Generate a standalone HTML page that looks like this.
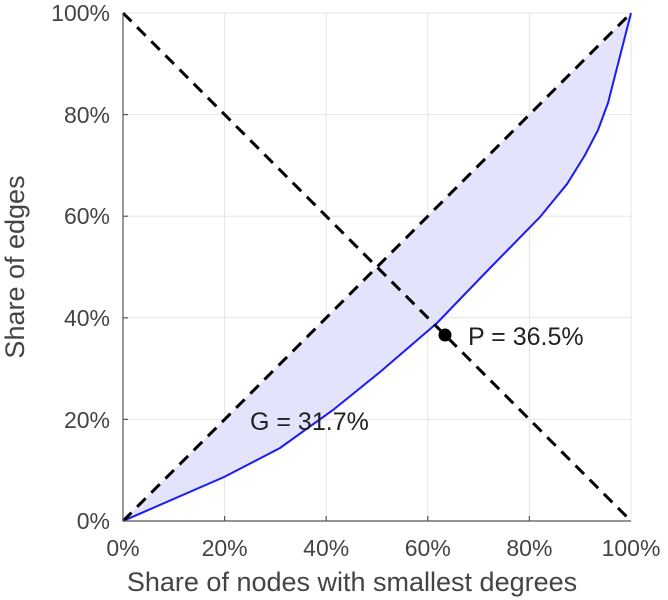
<!DOCTYPE html>
<html><head><meta charset="utf-8"><style>
html,body{margin:0;padding:0;background:#fff;}
svg{display:block;font-family:"Liberation Sans",sans-serif;}
</style></head><body>
<svg width="668" height="600" viewBox="0 0 668 600" xmlns="http://www.w3.org/2000/svg">
<g stroke="#e6e6e6" stroke-width="1">
<line x1="224.6" y1="13" x2="224.6" y2="521"/><line x1="326.2" y1="13" x2="326.2" y2="521"/>
<line x1="427.8" y1="13" x2="427.8" y2="521"/><line x1="529.4" y1="13" x2="529.4" y2="521"/>
<line x1="631" y1="13" x2="631" y2="521"/>
<line x1="123" y1="13" x2="631" y2="13"/><line x1="123" y1="114.6" x2="631" y2="114.6"/>
<line x1="123" y1="216.2" x2="631" y2="216.2"/><line x1="123" y1="317.8" x2="631" y2="317.8"/>
<line x1="123" y1="419.4" x2="631" y2="419.4"/>
</g>
<polygon points="123,521 224,477 280,448 333,410 380,372 437,323 490,268 540,217 567,184 585,155 598,130 608,103 631,13" fill="#e3e3fb" stroke="none"/>
<polyline points="123,521 224,477 280,448 333,410 380,372 437,323 490,268 540,217 567,184 585,155 598,130 608,103 631,13" fill="none" stroke="#1a1aff" stroke-width="2"/>
<g stroke="#000" stroke-width="3" stroke-dasharray="12,8" fill="none">
<line x1="123" y1="521" x2="631" y2="13"/>
<line x1="123" y1="13" x2="631" y2="521"/>
</g>
<g stroke="#555" stroke-width="1.2">
<line x1="123" y1="13" x2="123" y2="521"/><line x1="123" y1="521" x2="631" y2="521"/>
<line x1="224.6" y1="521" x2="224.6" y2="516"/><line x1="326.2" y1="521" x2="326.2" y2="516"/>
<line x1="427.8" y1="521" x2="427.8" y2="516"/><line x1="529.4" y1="521" x2="529.4" y2="516"/>
<line x1="123" y1="114.6" x2="128" y2="114.6"/><line x1="123" y1="216.2" x2="128" y2="216.2"/>
<line x1="123" y1="317.8" x2="128" y2="317.8"/><line x1="123" y1="419.4" x2="128" y2="419.4"/>
</g>
<circle cx="445" cy="335" r="6.5" fill="#000"/>
<g fill="#222" font-size="25">
<text x="468" y="345">P = 36.5%</text>
<text x="250" y="430">G = 31.7%</text>
</g>
<g fill="#444" font-size="23">
<g text-anchor="end">
<text x="110" y="529">0%</text><text x="110" y="428">20%</text><text x="110" y="326">40%</text>
<text x="110" y="224">60%</text><text x="110" y="123">80%</text><text x="110" y="21">100%</text>
</g>
<g text-anchor="middle">
<text x="123" y="556">0%</text><text x="224.6" y="556">20%</text><text x="326.2" y="556">40%</text>
<text x="427.8" y="556">60%</text><text x="529.4" y="556">80%</text><text x="631" y="556">100%</text>
<text x="352" y="591" font-size="27">Share of nodes with smallest degrees</text>
<text transform="translate(24,267) rotate(-90)" font-size="27">Share of edges</text>
</g>
</g>
</svg>
</body></html>
